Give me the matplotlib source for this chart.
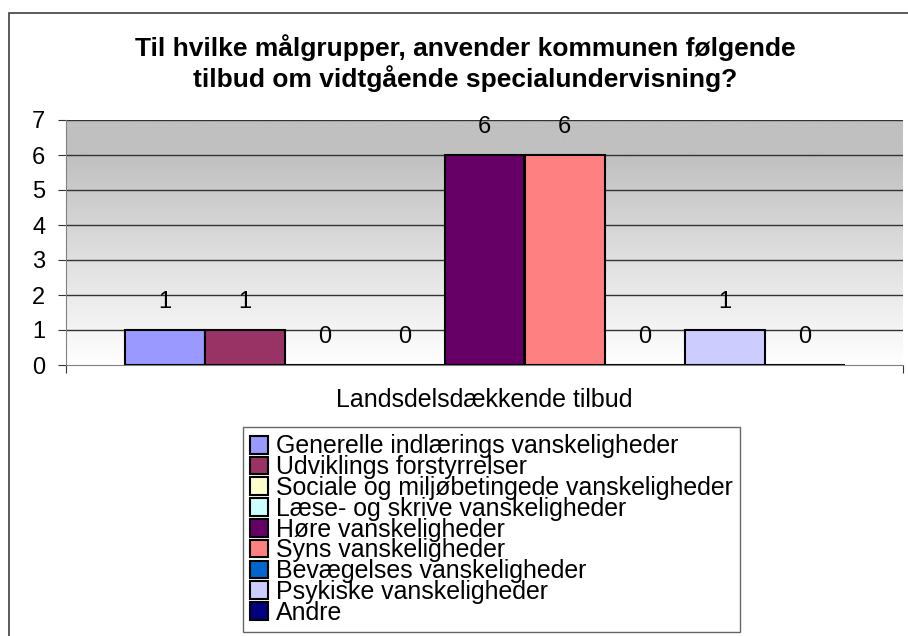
import numpy as np
import matplotlib
matplotlib.use("Agg")
import matplotlib.pyplot as plt
from matplotlib.colors import LinearSegmentedColormap
from matplotlib.patches import Patch, Rectangle

plt.rcParams["font.family"] = ["Liberation Sans", "DejaVu Sans"]

TITLE = "Til hvilke målgrupper, anvender kommunen følgende\ntilbud om vidtgående specialundervisning?"
CATEGORY = "Landsdelsdækkende tilbud"
SERIES = [
    "Generelle indlærings vanskeligheder",
    "Udviklings forstyrrelser",
    "Sociale og miljøbetingede vanskeligheder",
    "Læse- og skrive vanskeligheder",
    "Høre vanskeligheder",
    "Syns vanskeligheder",
    "Bevægelses vanskeligheder",
    "Psykiske vanskeligheder",
    "Andre",
]
VALUES = [1, 1, 0, 0, 6, 6, 0, 1, 0]
COLORS = ["#9999FF", "#993366", "#FFFFCC", "#CCFFFF", "#660066",
          "#FF8080", "#0066CC", "#CCCCFF", "#000080"]

W, H = 908, 636
fig = plt.figure(figsize=(W / 100, H / 100), dpi=100)
ax = fig.add_axes([66 / W, 1 - 365 / H, (903 - 66) / W, (365 - 120) / H])

n = len(VALUES)
group_w = 9 * 80 / (903 - 66)  # share of the axis width used by the bars
bar_w = group_w / n
xs = 0.5 - group_w / 2 + bar_w / 2 + np.arange(n) * bar_w
ax.set_xlim(0, 1)
ax.set_ylim(0, 7)

# gradient plot background (gray top -> white bottom)
grad = np.clip(np.linspace(0, 1, 256) / 0.86, 0, 1)[:, None]
ax.imshow(grad, cmap=LinearSegmentedColormap.from_list("bg", ["#ffffff", "#c0c0c0"]),
          aspect="auto", origin="lower", extent=[0, 1, 0, 7], zorder=0)

for y in range(1, 8):
    ax.axhline(y, color="#333333", lw=1.0, zorder=1)

for x, v, c in zip(xs, VALUES, COLORS):
    ax.bar(x, v, width=bar_w, color=c, edgecolor="black", lw=1.5, zorder=2)
    ax.annotate(str(v), (x, v), xytext=(0, 20), textcoords="offset points",
                ha="center", va="center", fontsize=17)

ax.set_yticks(range(0, 8))
ax.tick_params(axis="y", direction="out", length=6, color="#333333",
               labelsize=17, pad=9)
ax.set_xticks([0, 1])
ax.set_xticklabels([])
ax.tick_params(axis="x", direction="out", length=6, color="#333333")
for s in ["top", "right"]:
    ax.spines[s].set_visible(False)
ax.spines["left"].set_color("#808080")
ax.spines["bottom"].set_color("#808080")
ax.set_xlabel(CATEGORY, fontsize=18, labelpad=7)

fig.text(465 / W, 1 - 63 / H, TITLE, ha="center", va="center",
         fontsize=19, fontweight="bold", linespacing=1.22)

# outer chart border
fig.add_artist(Rectangle((9 / W, -0.1), 1.2, 1 - 13 / H + 0.1,
                         transform=fig.transFigure, fill=False,
                         edgecolor="#404040", lw=1.2))

handles = [Patch(facecolor=c, edgecolor="black", lw=1.5) for c in COLORS]
leg = fig.legend(handles, SERIES, loc="upper left",
                 bbox_to_anchor=(243 / W, 1 - 427 / H), fontsize=17.9,
                 frameon=True, fancybox=False, edgecolor="#404040",
                 handlelength=0.72, handleheight=0.72, handletextpad=0.3,
                 labelspacing=-0.13, borderpad=0.3, borderaxespad=0)
leg.get_frame().set_linewidth(1.0)

fig.savefig("out.png", dpi=100)
